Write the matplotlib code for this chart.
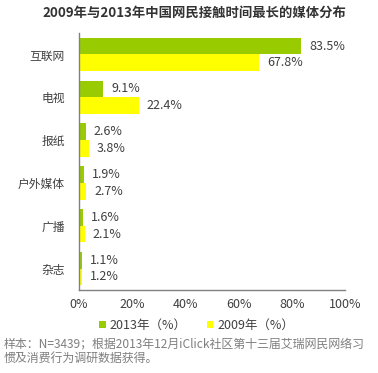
import matplotlib
matplotlib.use("Agg")
import matplotlib.pyplot as plt
import numpy as np

plt.rcParams['font.family'] = ['Noto Sans CJK SC', 'DejaVu Sans']

categories = ["互联网", "电视", "报纸", "户外媒体", "广播", "杂志"]
v2013 = [83.5, 9.1, 2.6, 1.9, 1.6, 1.1]
v2009 = [67.8, 22.4, 3.8, 2.7, 2.1, 1.2]
xticks = [0, 20, 40, 60, 80, 100]

green = "#99CC00"
yellow = "#FFFF00"
txt = "#404040"

fig = plt.figure(figsize=(3.78, 3.73), dpi=100)
ax = fig.add_axes([0.209, 0.2225, 0.704, 0.689])

n = len(categories)
y = np.arange(n)
h = 0.39
b1 = ax.barh(y - h / 2, v2013, height=h, color=green, label="2013年（%）")
b2 = ax.barh(y + h / 2, v2009, height=h, color=yellow, label="2009年（%）")

for yi, v in zip(y, v2013):
    ax.text(v + 3, yi - h / 2, f"{v}%", va="center", ha="left", fontsize=9, color=txt)
for yi, v in zip(y, v2009):
    ax.text(v + 3, yi + h / 2, f"{v}%", va="center", ha="left", fontsize=9, color=txt)

ax.set_ylim(n - 0.5, -0.5)
ax.set_xlim(0, 100)
ax.set_yticks(y)
ax.set_yticklabels(categories, fontsize=8.5, color=txt)
ax.set_xticks(xticks)
ax.set_xticklabels([f"{t}%" for t in xticks], fontsize=9, color=txt)
ax.tick_params(length=0)
ax.tick_params(axis='y', pad=10)
ax.tick_params(axis='x', pad=6)
for s in ["top", "right"]:
    ax.spines[s].set_visible(False)
for s in ["left", "bottom"]:
    ax.spines[s].set_color("#808080")
    ax.spines[s].set_linewidth(1)

fig.text(0.515, 0.965, "2009年与2013年中国网民接触时间最长的媒体分布", ha="center", va="center",
         fontsize=9.6, fontweight="bold", color="#333333")

leg = fig.legend(handles=[b1, b2], loc="center", bbox_to_anchor=(0.52, 0.128), ncol=2,
                 frameon=False, fontsize=9, handlelength=0.55, handleheight=0.55,
                 handletextpad=0.3, columnspacing=1.6)
for t in leg.get_texts():
    t.set_color(txt)

fig.text(0.01, 0.058, "样本：N=3439；根据2013年12月iClick社区第十三届艾瑞网民网络习\n惯及消费行为调研数据获得。",
         ha="left", va="center", fontsize=8.6, color="#7f7f7f", linespacing=1.15)

fig.savefig("out.png", dpi=100)
